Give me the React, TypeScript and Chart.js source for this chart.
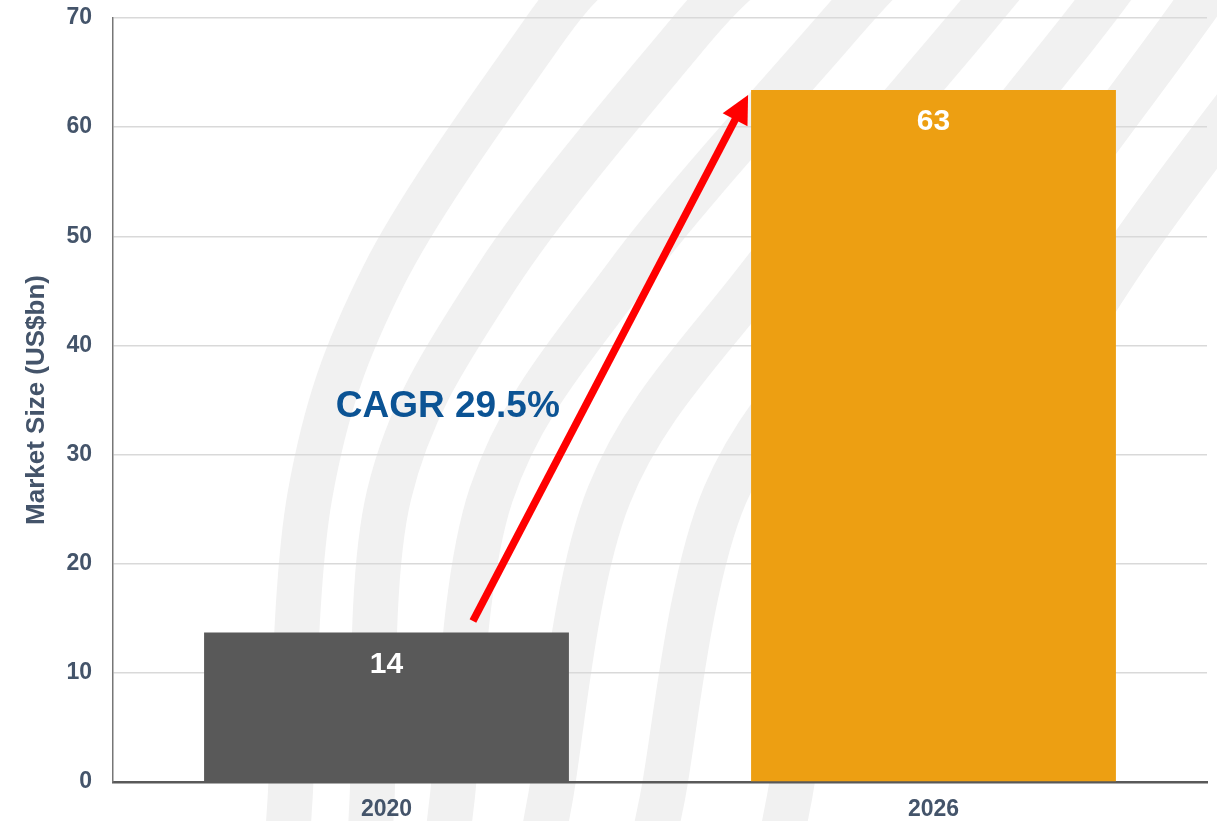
import React, { useEffect, useRef } from 'react';
import { Chart, registerables } from 'chart.js';

Chart.register(...registerables);

// ---- data ----
const categories: string[] = ['2020', '2026'];
const marketSize: number[] = [13.7, 63.4];
const valueLabels: string[] = ['14', '63'];
const barColors: string[] = ['#595959', '#ED9F12'];
const yAxisTitle = 'Market Size (US$bn)';
const yMin = 0;
const yMax = 70;
const yStep = 10;

// ---- annotation (in data units: category index / value) ----
const cagrText = 'CAGR 29.5%';
const cagrAnchor = { x: 0.112, y: 34.4 };
const arrowFrom = { x: 0.158, y: 14.75 };
const arrowTo = { x: 0.661, y: 62.95 };

// ---- decorative watermark stripes (layout px for a 1217x821 canvas) ----
const stripePaths: number[][][] = [
  [[596, -30], [541, 35], [384, 275], [310, 495], [290, 800], [287, 850]],
  [[750, -30], [687, 35], [498, 275], [389, 495], [372, 800], [370, 850]],
  [[890, -30], [831, 35], [627, 275], [491, 495], [452, 800], [448, 850]],
  [[1015, -30], [961, 35], [761, 275], [609, 495], [550, 800], [542, 850]],
  [[1125, -30], [1076, 35], [885, 275], [725, 495], [662, 800], [652, 850]],
  [[1222, -30], [1176, 35], [1000, 275], [850, 495], [789, 800], [780, 850]],
  [[1335, -30], [1290, 35], [1113, 275], [990, 495], [940, 700]],
];

const FONT = "'Liberation Sans', Arial, sans-serif";
const AXIS_TEXT = '#44546A';

const backgroundPlugin = {
  id: 'watermark',
  beforeDraw(chart: any) {
    const { ctx, width, height } = chart;
    const sx = width / 1217;
    const sy = height / 821;
    ctx.save();
    ctx.fillStyle = '#ffffff';
    ctx.fillRect(0, 0, width, height);
    ctx.strokeStyle = '#f1f1f1';
    ctx.lineWidth = 45;
    ctx.lineCap = 'butt';
    for (const pts of stripePaths) {
      const p = pts.map(([x, y]) => [x * sx, y * sy]);
      ctx.beginPath();
      ctx.moveTo(p[0][0], p[0][1]);
      for (let i = 0; i < p.length - 1; i++) {
        const p0 = p[i - 1] || p[i];
        const p1 = p[i];
        const p2 = p[i + 1];
        const p3 = p[i + 2] || p[i + 1];
        const c1x = p1[0] + (p2[0] - p0[0]) / 6;
        const c1y = p1[1] + (p2[1] - p0[1]) / 6;
        const c2x = p2[0] - (p3[0] - p1[0]) / 6;
        const c2y = p2[1] - (p3[1] - p1[1]) / 6;
        ctx.bezierCurveTo(c1x, c1y, c2x, c2y, p2[0], p2[1]);
      }
      ctx.stroke();
    }
    ctx.restore();
  },
};

const annotationPlugin = {
  id: 'annotations',
  afterDatasetsDraw(chart: any) {
    const { ctx } = chart;
    const xs = chart.scales.x;
    const ys = chart.scales.y;
    ctx.save();

    // value labels inside bars
    const meta = chart.getDatasetMeta(0);
    ctx.fillStyle = '#ffffff';
    ctx.font = `bold 30px ${FONT}`;
    ctx.textAlign = 'center';
    ctx.textBaseline = 'middle';
    meta.data.forEach((el: any, i: number) => {
      ctx.fillText(valueLabels[i], el.x, el.y + 32);
    });

    // arrow
    const x1 = xs.getPixelForValue(arrowFrom.x);
    const y1 = ys.getPixelForValue(arrowFrom.y);
    const x2 = xs.getPixelForValue(arrowTo.x);
    const y2 = ys.getPixelForValue(arrowTo.y);
    const ang = Math.atan2(y2 - y1, x2 - x1);
    const headLen = 28;
    const headHalf = 14;
    const bx = x2 - headLen * Math.cos(ang);
    const by = y2 - headLen * Math.sin(ang);
    ctx.strokeStyle = '#FF0000';
    ctx.fillStyle = '#FF0000';
    ctx.lineWidth = 7.5;
    ctx.lineCap = 'butt';
    ctx.beginPath();
    ctx.moveTo(x1, y1);
    ctx.lineTo(bx + 2 * Math.cos(ang), by + 2 * Math.sin(ang));
    ctx.stroke();
    ctx.beginPath();
    ctx.moveTo(x2, y2);
    ctx.lineTo(bx + headHalf * Math.sin(ang), by - headHalf * Math.cos(ang));
    ctx.lineTo(bx - headHalf * Math.sin(ang), by + headHalf * Math.cos(ang));
    ctx.closePath();
    ctx.fill();

    // CAGR text
    ctx.fillStyle = '#0B5394';
    ctx.font = `bold 37px ${FONT}`;
    ctx.textAlign = 'center';
    ctx.textBaseline = 'middle';
    ctx.fillText(cagrText, xs.getPixelForValue(cagrAnchor.x), ys.getPixelForValue(cagrAnchor.y));

    ctx.restore();
  },
};

export default function App() {
  const canvasRef = useRef<HTMLCanvasElement | null>(null);

  useEffect(() => {
    document.body.style.margin = '0';
    const canvas = canvasRef.current;
    if (!canvas) return;
    const chart = new Chart(canvas, {
      type: 'bar',
      data: {
        labels: categories,
        datasets: [
          {
            data: marketSize,
            backgroundColor: barColors,
            borderWidth: 0,
            categoryPercentage: 1,
            barPercentage: 0.667,
          },
        ],
      },
      options: {
        animation: false,
        responsive: true,
        maintainAspectRatio: false,
        layout: { padding: { top: 18, right: 10, bottom: 0, left: 0 } },
        plugins: {
          legend: { display: false },
          tooltip: { enabled: false },
        },
        scales: {
          x: {
            grid: { display: false, drawTicks: false },
            border: { display: true, color: '#595959', width: 2.5 },
            ticks: {
              color: AXIS_TEXT,
              font: { family: FONT, size: 23, weight: 'bold' },
              padding: 14,
            },
            afterFit: (scale: any) => {
              scale.height = 39;
            },
          },
          y: {
            min: yMin,
            max: yMax,
            grid: { color: '#d9d9d9', lineWidth: 1.5, drawTicks: false },
            border: { display: true, color: '#767676', width: 1.5 },
            ticks: {
              stepSize: yStep,
              color: AXIS_TEXT,
              font: { family: FONT, size: 23, weight: 'bold' },
              padding: 21,
            },
            title: {
              display: true,
              text: yAxisTitle,
              color: AXIS_TEXT,
              font: { family: FONT, size: 26, weight: 'bold' },
              padding: { top: 21, bottom: 0 },
            },
            afterFit: (scale: any) => {
              scale.width = 113;
              scale.paddingTop = 0;
              scale.paddingBottom = 0;
            },
          },
        },
      },
      plugins: [backgroundPlugin, annotationPlugin],
    });
    return () => chart.destroy();
  }, []);

  return (
    <div style={{ width: 1217, height: 821, position: 'relative' }}>
      <canvas ref={canvasRef} />
    </div>
  );
}
